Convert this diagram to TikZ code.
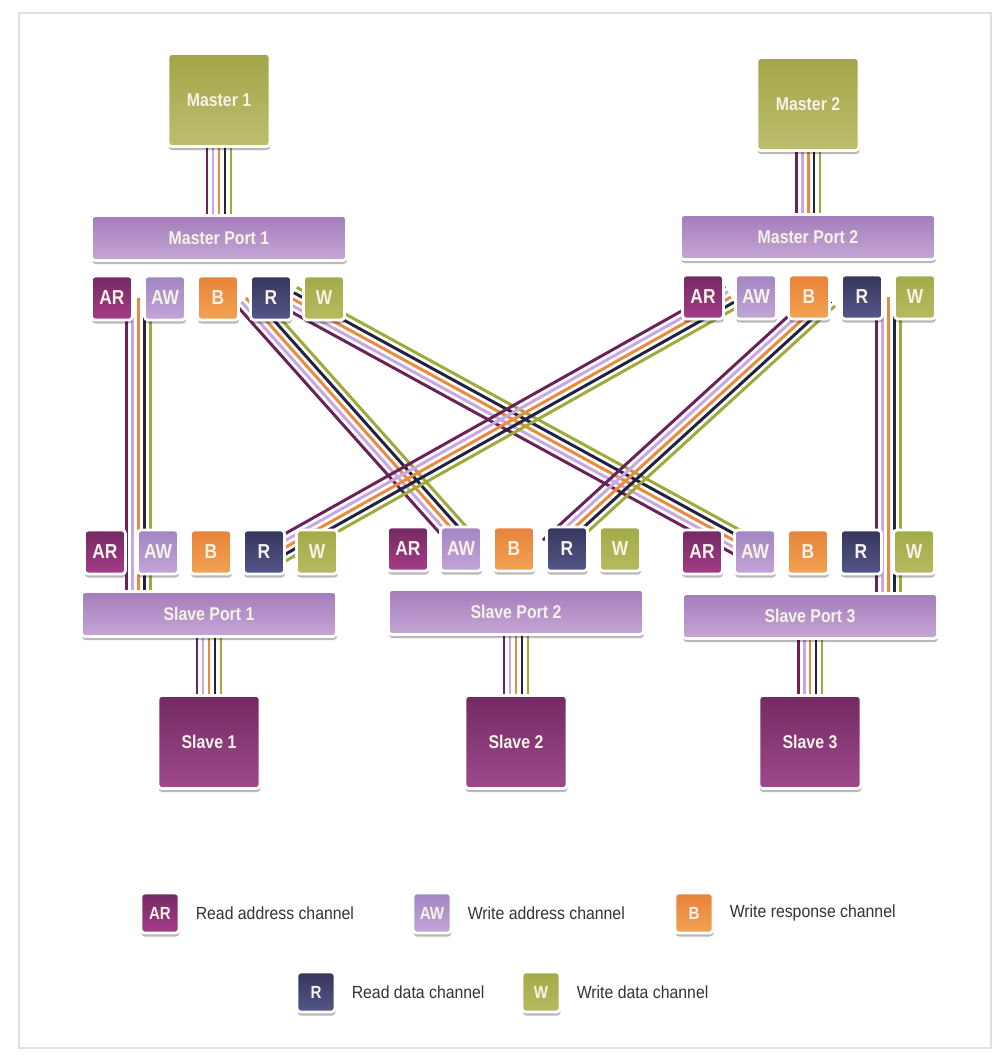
\documentclass[tikz,border=0pt]{standalone}
\usepackage{fontspec}
\setmainfont{Liberation Sans}
\newfontfamily\boxfont{Liberation Sans}[FakeStretch=0.86]
\newfontfamily\legfont{Liberation Sans}[FakeStretch=0.9]
\usetikzlibrary{calc,positioning,shadows}

\definecolor{masterTop}{HTML}{A3A548}
\definecolor{masterBot}{HTML}{BDBE6E}
\definecolor{portTop}{HTML}{A37DBB}
\definecolor{portBot}{HTML}{C6A6D6}
\definecolor{slaveTop}{HTML}{732A62}
\definecolor{slaveBot}{HTML}{9D4A8C}
\definecolor{arTop}{HTML}{742A63}
\definecolor{arBot}{HTML}{A53C88}
\definecolor{awTop}{HTML}{A385C2}
\definecolor{awBot}{HTML}{C2A5D8}
\definecolor{bTop}{HTML}{E7823A}
\definecolor{bBot}{HTML}{F2A353}
\definecolor{rTop}{HTML}{35365C}
\definecolor{rBot}{HTML}{55568A}
\definecolor{wTop}{HTML}{A2AB48}
\definecolor{wBot}{HTML}{B7BB60}
\definecolor{chAR}{HTML}{6A2259}
\definecolor{chAW}{HTML}{C9A7E0}
\definecolor{chB}{HTML}{E98B3E}
\definecolor{chR}{HTML}{22243F}
\definecolor{chW}{HTML}{9EAB3A}
\definecolor{boxtext}{HTML}{F6F2E8}

\pgfdeclarelayer{bg}
\pgfsetlayers{bg,main}

\tikzset{
  blk/.style={rounded corners=2pt, draw=white, line width=1.6pt, text=boxtext,
    inner sep=0pt, drop shadow={shadow xshift=0.3pt, shadow yshift=-2pt, opacity=0.28, fill=black}},
  bigbox/.style={blk, minimum width=2.04cm, minimum height=1.86cm, font=\boxfont\fontsize{10.5}{12}\selectfont\bfseries},
  bar/.style={blk, minimum width=5.1cm, minimum height=0.9cm, top color=portTop, bottom color=portBot,
    font=\boxfont\fontsize{10.5}{12}\selectfont\bfseries},
  chbox/.style={blk, minimum width=0.82cm, minimum height=0.88cm, font=\boxfont\fontsize{11.5}{12}\selectfont\bfseries},
  legbox/.style={blk, minimum width=0.76cm, minimum height=0.8cm, font=\boxfont\fontsize{10}{12}\selectfont\bfseries},
  legtext/.style={inner sep=0pt, text=black!80, font=\legfont\fontsize{10}{12}\selectfont},
  fillmaster/.style={top color=masterTop, bottom color=masterBot},
  fillslave/.style={top color=slaveTop, bottom color=slaveBot},
  fillAR/.style={top color=arTop, bottom color=arBot},
  fillAW/.style={top color=awTop, bottom color=awBot},
  fillB/.style={top color=bTop, bottom color=bBot},
  fillR/.style={top color=rTop, bottom color=rBot},
  fillW/.style={top color=wTop, bottom color=wBot},
  strand/.style={draw=#1, line width=1.7pt}
}

% five parallel channel wires from #1 to #2
\newcommand\bundle[2]{%
  \foreach \c [count=\i] in {chAR,chAW,chB,chR,chW}{
    \pgfmathsetmacro\off{(\i-3)*0.12}
    \draw[strand=\c] ($(#1)!\off cm!90:(#2)$) -- ($(#2)!\off cm!-90:(#1)$);
  }}

\begin{document}
\begin{tikzpicture}
  \useasboundingbox (0,0) rectangle (20.04,21.12);
  \draw[black!12, line width=1pt] (0.38,0.16) rectangle (19.82,20.86);

  % masters and slaves
  \node[bigbox, fillmaster] (m1) at (4.38,19.12) {Master 1};
  \node[bigbox, fillmaster] (m2) at (16.16,19.04) {Master 2};
  \node[bigbox, fillslave] (s1) at (4.18,6.28) {Slave 1};
  \node[bigbox, fillslave] (s2) at (10.32,6.28) {Slave 2};
  \node[bigbox, fillslave] (s3) at (16.20,6.28) {Slave 3};

  % port bars
  \node[bar] (mp1) at (4.38,16.36) {Master Port 1};
  \node[bar] (mp2) at (16.16,16.38) {Master Port 2};
  \node[bar] (sp1) at (4.18,8.84) {Slave Port 1};
  \node[bar] (sp2) at (10.32,8.88) {Slave Port 2};
  \node[bar] (sp3) at (16.20,8.80) {Slave Port 3};

  % channel boxes
  \foreach \p/\x/\y in {mp1/2.24/15.16, mp2/14.06/15.18, sp1/2.10/10.08, sp2/8.16/10.14, sp3/14.04/10.08}
    \foreach \c [count=\i from 0] in {AR,AW,B,R,W}
      \node[chbox, fill\c] (\p-\c) at (\x+1.06*\i,\y) {\c};

  % wire ends
  \coordinate (mp1-down) at ($(mp1-AR)!0.5!(mp1-AW)$);
  \coordinate (sp1-up) at (mp1-down |- sp1.center);
  \coordinate (mp2-down) at ($(mp2-R)!0.5!(mp2-W)$);
  \coordinate (sp3-up) at (mp2-down |- sp3.center);
  \coordinate (a1) at (4.92,15.16);  \coordinate (a2) at (9.40,10.14);
  \coordinate (b1) at (5.82,15.16);  \coordinate (b2) at (15.10,10.08);
  \coordinate (c1) at (14.62,15.18); \coordinate (c2) at (5.54,10.08);
  \coordinate (d1) at (16.54,15.18); \coordinate (d2) at (11.02,10.14);

  \begin{pgfonlayer}{bg}
    \bundle{m1.center}{mp1.center}
    \bundle{m2.center}{mp2.center}
    \bundle{sp1.center}{s1.center}
    \bundle{sp2.center}{s2.center}
    \bundle{sp3.center}{s3.center}
    \bundle{mp1-down}{sp1-up}
    \bundle{mp2-down}{sp3-up}
    \bundle{a1}{a2}
    \bundle{b1}{b2}
    \bundle{c1}{c2}
    \bundle{d1}{d2}
  \end{pgfonlayer}

  % legend
  \foreach \c/\x/\y/\t in {AR/3.20/2.86/Read address channel, AW/8.64/2.86/Write address channel,
      B/13.88/2.86/Write response channel, R/6.32/1.28/Read data channel, W/10.82/1.28/Write data channel}{
    \node[legbox, fill\c] (key-\c) at (\x,\y) {\c};
    \node[legtext, right=0.3cm of key-\c] (keytext-\c) {\t};
  }
\end{tikzpicture}
\end{document}
